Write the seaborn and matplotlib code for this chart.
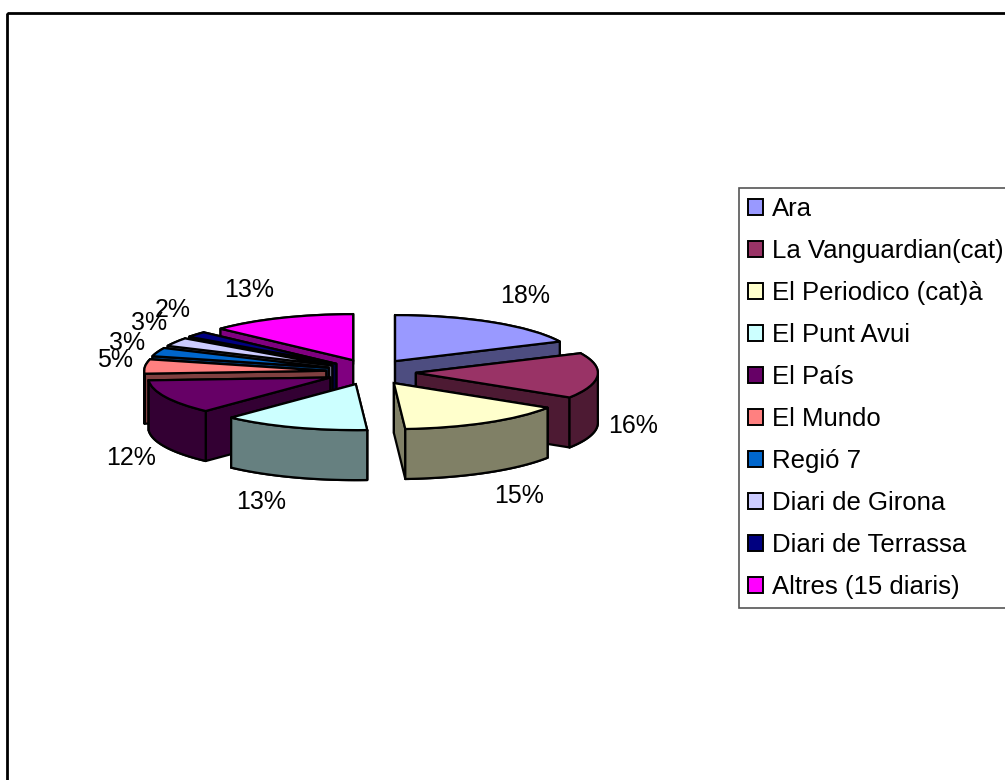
import numpy as np
import matplotlib
matplotlib.use("Agg")
import matplotlib.pyplot as plt
from matplotlib.patches import Patch, Polygon, Rectangle
import seaborn as sns

names = ["Ara", "La Vanguardian(cat)", "El Periodico (cat)à", "El Punt Avui", "El País",
         "El Mundo", "Regió 7", "Diari de Girona", "Diari de Terrassa", "Altres (15 diaris)"]
values = [18, 16, 15, 13, 12, 5, 3, 3, 2, 13]
colors = ["#9999FF", "#993366", "#FFFFCC", "#CCFFFF", "#660066",
          "#FF8080", "#0066CC", "#CCCCFF", "#000080", "#FF00FF"]
label_px = [(525, 296), (633, 426), (519, 496), (261, 502), (131, 458),
            (115, 360), (127, 343), (149, 323), (173, 310), (249, 290)]

W, H = 1005, 780
CX, CY, RX, RY, DEPTH = 371, 372, 182, 46, 50
EXPLODE_X, EXPLODE_Y = 0.247, 0.28
FONT = "Liberation Sans"

sns.set_theme(style="white")
plt.rcParams["font.family"] = [FONT, "DejaVu Sans"]
palette = sns.color_palette(colors)

fig = plt.figure(figsize=(W / 100, H / 100), dpi=100, facecolor="white")
ax = fig.add_axes([0, 0, 1, 1])
wedges, _ = ax.pie(values, colors=palette, startangle=90, counterclock=False,
                   explode=[EXPLODE_X] * len(values), radius=1,
                   wedgeprops=dict(edgecolor="black", linewidth=1.6))
ax.set_aspect("auto")
ax.set_xlim(-CX / RX, (W - CX) / RX)
ax.set_ylim(-(H - CY) / RY, CY / RY)
ax.axis("off")

# the tilted view pulls the slices apart a little more vertically than horizontally
for w in wedges:
    w.set_center((w.center[0], w.center[1] * EXPLODE_Y / EXPLODE_X))

dz = DEPTH / RY


def shade(c):
    return tuple(v * 0.5 for v in matplotlib.colors.to_rgb(c))


def rim(w, a, b):
    t = np.radians(np.linspace(a, b, max(int(abs(b - a)) + 2, 2)))
    return np.column_stack([w.center[0] + w.r * np.cos(t), w.center[1] + w.r * np.sin(t)])


def face(top, color):
    low = top[::-1] - [0, dz]
    return Polygon(np.vstack([top, low]), closed=True, fc=color, ec="black", lw=1.6, joinstyle="round")


def back_distance(w):
    mid = (w.theta1 + w.theta2) / 2
    return abs((mid - 90 + 180) % 360 - 180)


order = sorted(range(len(wedges)), key=lambda i: back_distance(wedges[i]))
for k, i in enumerate(order):
    w = wedges[i]
    col = shade(colors[i])
    t1, t2 = w.theta1 % 360, w.theta2 % 360
    if t2 <= t1:
        t2 += 360
    z = 3 + 2 * k
    ax.add_patch(face(rim(w, t1, t2), col)).set_zorder(z)
    cuts = [np.vstack([[w.center], rim(w, t, t)[:1]]) for t in (t1, t2)]
    cuts.sort(key=lambda p: p[:, 1].mean(), reverse=True)
    for p in cuts:
        ax.add_patch(face(p, col)).set_zorder(z)
    front_a, front_b = max(t1, 180), min(t2, 360)
    if front_b > front_a:
        ax.add_patch(face(rim(w, front_a, front_b), col)).set_zorder(z)
    w.set_zorder(z + 1)

for v, (x, y) in zip(values, label_px):
    ax.text((x - CX) / RX, (CY - y) / RY, f"{v}%", ha="center", va="center",
            fontsize=18, color="black", zorder=60)

# outer chart frame continues past the right and bottom of the picture
ax.add_patch(Rectangle((6.5 / W, 1 - 13 / H), 2, -1, transform=fig.transFigure, fc="none",
                       ec="black", lw=2, zorder=70))

handles = [Patch(fc=c, ec="black", lw=1.4) for c in palette]
leg = fig.legend(handles, names, loc="upper left", bbox_to_anchor=(739 / W, 1 - 188 / H),
                 bbox_transform=fig.transFigure, fontsize=18.5, frameon=True, fancybox=False,
                 edgecolor="#555555", facecolor="white", framealpha=1, handlelength=0.6,
                 handleheight=0.6, handletextpad=0.32, labelspacing=0.7, borderpad=0.35,
                 borderaxespad=0, labelcolor="black")
leg.get_frame().set_linewidth(1.2)
leg.set_zorder(80)
fig.savefig("out.png", dpi=100)
